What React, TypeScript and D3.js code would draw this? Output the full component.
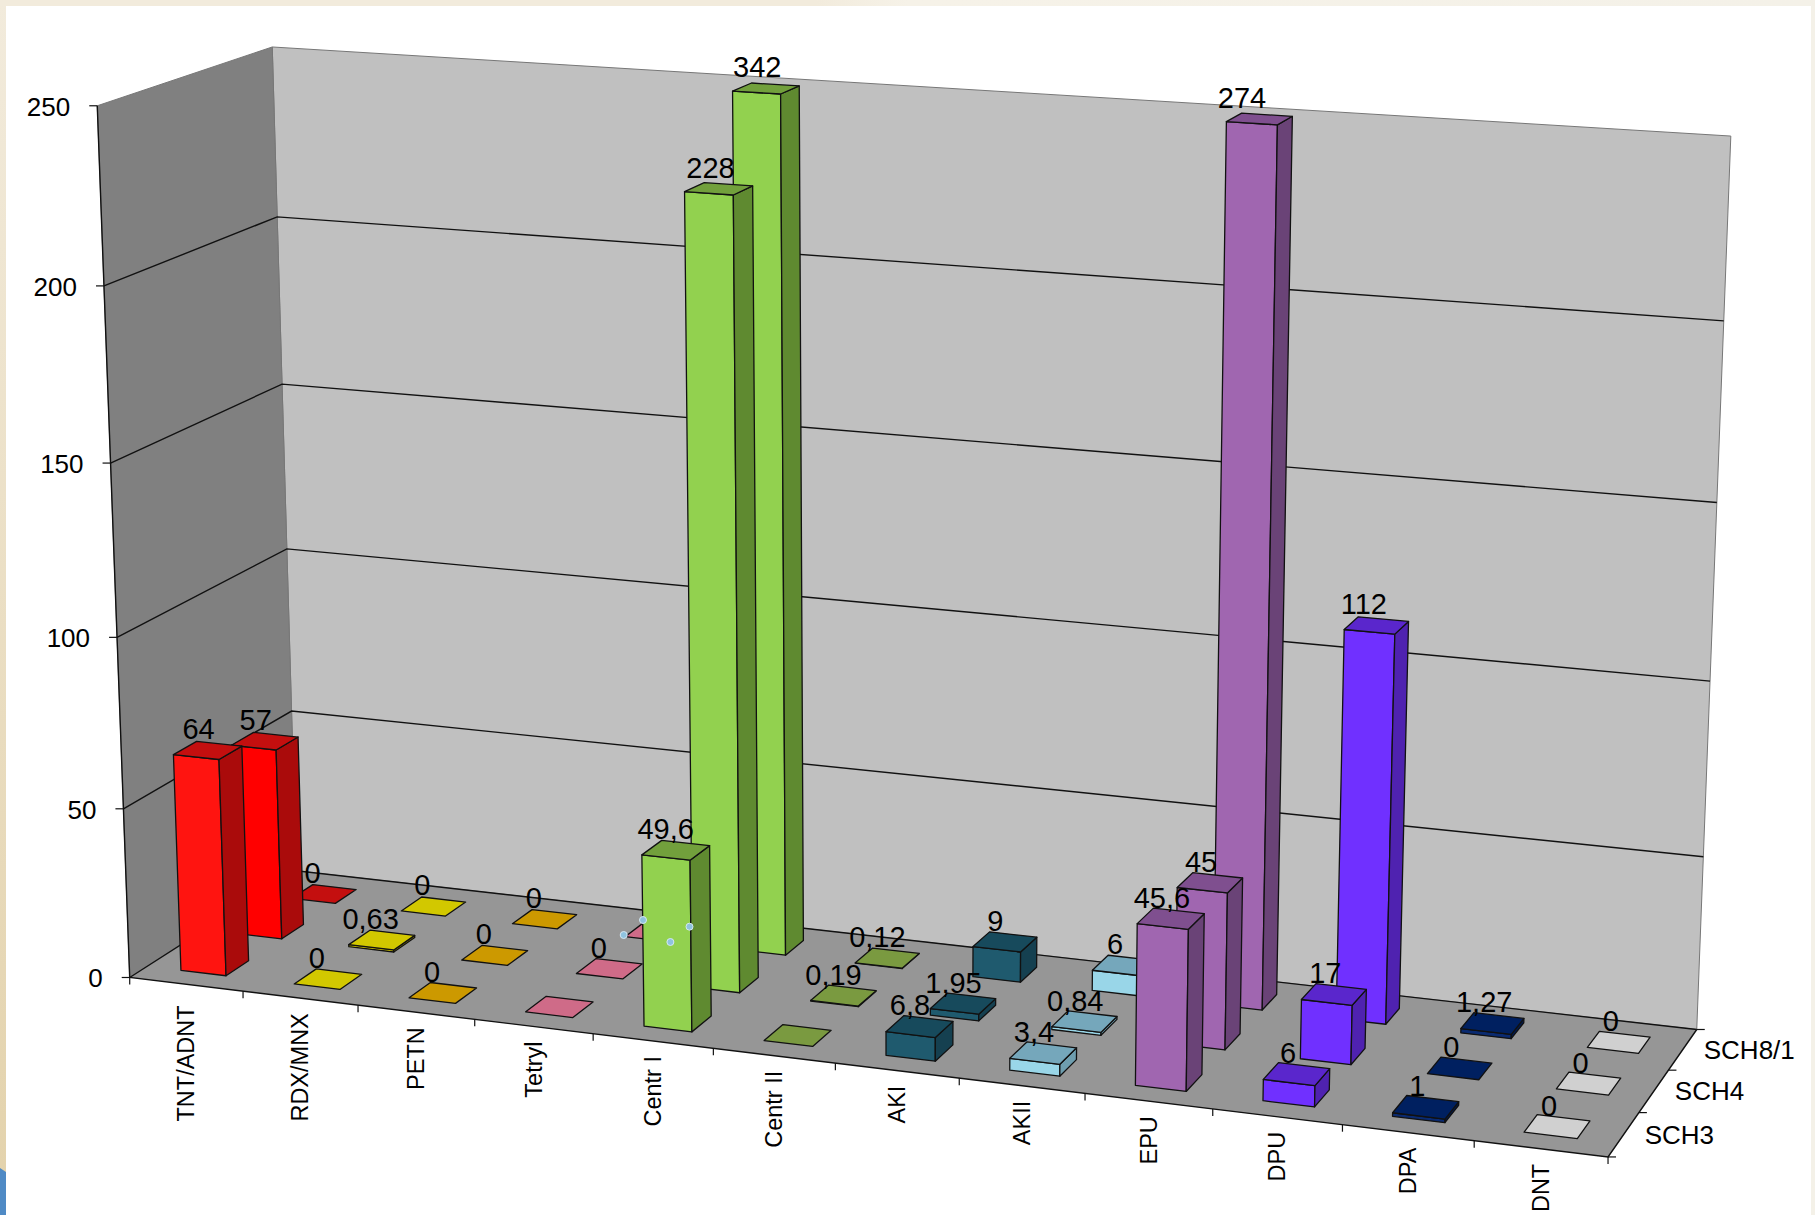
import React, { useMemo } from "react";
import * as d3 from "d3";

const WIDTH = 1815;
const HEIGHT = 1215;

// Series run from the front of the floor to the back wall.
const seriesNames = ["SCH3", "SCH4", "SCH8/1"];
const categories = ["TNT/ADNT", "RDX/MNX", "PETN", "Tetryl", "Centr I", "Centr II", "AKI", "AKII", "EPU", "DPU", "DPA", "DNT"];

const sch3Values = [64, 0, 0, 0, 49.6, 0, 6.8, 3.4, 45.6, 6, 1, 0];
const sch4Values = [57, 0.63, 0, 0, 228, 0.19, 1.95, 0.84, 45, 17, 0, 0];
const sch81Values = [0, 0, 0, 0, 342, 0.12, 9, 6, 274, 112, 1.27, 0];

// Empty strings are zero bars printed without a label.
const sch3Labels = ["64", "0", "0", "", "49,6", "", "6,8", "3,4", "45,6", "6", "1", "0"];
const sch4Labels = ["57", "0,63", "0", "0", "228", "0,19", "1,95", "0,84", "45", "17", "0", "0"];
const sch81Labels = ["0", "0", "0", "", "342", "0,12", "9", "6", "274", "112", "1,27", "0"];

const seriesValues = [sch3Values, sch4Values, sch81Values];
const seriesLabels = [sch3Labels, sch4Labels, sch81Labels];

const frontColors = ["#ff1410", "#e6da00", "#f5b800", "#f57a9a", "#92d14f", "#92d14f", "#1f5a6e", "#99d6e8", "#a066b0", "#7030ff", "#0a2a70", "#f2f2f2"];
const topColors = ["#c40f0f", "#d2c800", "#cc9900", "#cf6b88", "#72a03c", "#7a9a40", "#174a5c", "#75a7bb", "#7f4f8f", "#5a26cc", "#002060", "#d0d0d0"];
const sideColors = ["#aa0b0b", "#a89c00", "#a07800", "#a05068", "#5f8a30", "#5f8a30", "#154050", "#6e9eaf", "#6a4377", "#4f22b0", "#001a50", "#a8a8a8"];

const axisMax = 250;

// Box corners on the page: [x, y, z] in unit box space and where each lands.
const boxReference: [number, number, number, number, number][] = [
  [0, 0, 0, 130, 977],
  [1, 0, 0, 1608, 1158],
  [0, 1, 0, 296, 872],
  [1, 1, 0, 1697, 1028],
  [0, 0, 1, 97.3, 106],
  [0, 1, 1, 272, 46.7],
  [1, 1, 1, 1731, 136],
  [0, 0, 0.2, 122.8, 808],
  [0, 1, 0.2, 292, 711],
  [1, 1, 0.4, 1709.7, 681.7],
  [0, 0, 0.8, 104.3, 286],
  [1, 1, 0.8, 1723.7, 320.8],
];

const selectionHandles: [number, number][] = [
  [623.7, 935],
  [643, 920],
  [689.5, 926.7],
  [670.4, 942],
];

// Horizontal label adjustments for the tall bars, keyed by row-category.
const labelNudge: Record<string, number> = { "0-0": 2.4, "1-0": 2.4, "1-4": 2, "2-4": 1.5, "2-8": -8.5, "2-9": -4 };

// Least-squares fit of a 3x4 projective camera (bottom-right entry fixed at 1).
function fitCamera(points: typeof boxReference): number[] {
  const n = 11;
  const A = Array.from({ length: n }, () => new Array(n + 1).fill(0));
  const add = (row: number[], rhs: number) => {
    for (let i = 0; i < n; i++) {
      for (let j = 0; j < n; j++) A[i][j] += row[i] * row[j];
      A[i][n] += row[i] * rhs;
    }
  };
  for (const [x, y, z, pu, pv] of points) {
    const u = pu / 1000;
    const v = pv / 1000;
    add([x, y, z, 1, 0, 0, 0, 0, -u * x, -u * y, -u * z], u);
    add([0, 0, 0, 0, x, y, z, 1, -v * x, -v * y, -v * z], v);
  }
  for (let c = 0; c < n; c++) {
    let best = c;
    for (let r = c + 1; r < n; r++) if (Math.abs(A[r][c]) > Math.abs(A[best][c])) best = r;
    [A[c], A[best]] = [A[best], A[c]];
    for (let r = 0; r < n; r++) {
      if (r === c) continue;
      const f = A[r][c] / A[c][c];
      for (let k = c; k <= n; k++) A[r][k] -= f * A[c][k];
    }
  }
  return A.map((row, i) => row[n] / row[i]);
}

const cam = fitCamera(boxReference);

type Pt = [number, number];

function project(x: number, y: number, z: number): Pt {
  const w = cam[8] * x + cam[9] * y + cam[10] * z + 1;
  return [
    (1000 * (cam[0] * x + cam[1] * y + cam[2] * z + cam[3])) / w,
    (1000 * (cam[4] * x + cam[5] * y + cam[6] * z + cam[7])) / w,
  ];
}

const outline = (pts: Pt[]) => d3.line()(pts)! + "Z";

export default function App() {
  const font = "'Liberation Sans', Arial, sans-serif";

  const xBand = useMemo(() => d3.scaleBand<string>().domain(categories).range([0, 1]).paddingInner(0.6).paddingOuter(0.3), []);
  const depthBand = useMemo(() => d3.scaleBand<string>().domain(seriesNames).range([0, 1]).paddingInner(0.6).paddingOuter(0.3), []);
  const zScale = useMemo(() => d3.scaleLinear().domain([0, axisMax]).range([0, 1]).clamp(true), []);
  const zTicks = zScale.ticks(5);

  const bars: React.ReactNode[] = [];
  const valueLabels: React.ReactNode[] = [];

  // Paint from the back row forward so nearer bars cover farther ones.
  for (let r = seriesNames.length - 1; r >= 0; r--) {
    const y0 = depthBand(seriesNames[r])!;
    const y1 = y0 + depthBand.bandwidth();
    categories.forEach((cat, i) => {
      const x0 = xBand(cat)!;
      const x1 = x0 + xBand.bandwidth();
      const value = seriesValues[r][i];
      const z = zScale(value);
      const front = outline([project(x0, y0, 0), project(x1, y0, 0), project(x1, y0, z), project(x0, y0, z)]);
      const side = outline([project(x1, y0, 0), project(x1, y1, 0), project(x1, y1, z), project(x1, y0, z)]);
      const top = outline([project(x0, y0, z), project(x1, y0, z), project(x1, y1, z), project(x0, y1, z)]);
      const common = { stroke: "#111", strokeWidth: 1.3, strokeLinejoin: "round" as const };
      const frontFill = r === 1 && i === 0 ? "#ff0000" : frontColors[i];
      bars.push(
        <g key={`${r}-${i}`}>
          {value > 0 && <path d={front} fill={frontFill} {...common} />}
          {value > 0 && <path d={side} fill={sideColors[i]} {...common} />}
          <path d={top} fill={topColors[i]} {...common} />
        </g>
      );
      const label = seriesLabels[r][i];
      if (label) {
        const [cx, cy] = project((x0 + x1) / 2, (y0 + y1) / 2, z);
        const dx = -11.5 + (3.5 * i) / (categories.length - 1) + (labelNudge[`${r}-${i}`] ?? 0);
        valueLabels.push(
          <text key={`${r}-${i}`} x={cx + dx} y={cy - 21} textAnchor="middle" dominantBaseline="central" fontSize={29} fill="#000" fontFamily={font}>
            {label}
          </text>
        );
      }
    });
  }

  const step = xBand.step();
  const rowStep = depthBand.step();

  return (
    <svg width={WIDTH} height={HEIGHT} viewBox={`0 0 ${WIDTH} ${HEIGHT}`} style={{ position: "absolute", left: 0, top: 0, display: "block" }}>
      <defs>
        <linearGradient id="leftEdge" x1="0" y1="0" x2="0" y2="1">
          <stop offset="0" stopColor="#f2ebdc" />
          <stop offset="1" stopColor="#e3d2ab" />
        </linearGradient>
        <linearGradient id="topEdge" x1="0" y1="0" x2="1" y2="0">
          <stop offset="0" stopColor="#f2ebdc" />
          <stop offset="0.45" stopColor="#f2ebdc" />
          <stop offset="0.5" stopColor="#f6f2e8" />
          <stop offset="1" stopColor="#f4f1e8" />
        </linearGradient>
      </defs>
      <rect width={WIDTH} height={HEIGHT} fill="#ffffff" />
      <rect x={0} y={0} width={6} height={HEIGHT} fill="url(#leftEdge)" />
      <rect x={0} y={0} width={WIDTH} height={6} fill="url(#topEdge)" />
      <rect x={WIDTH - 4} y={0} width={4} height={HEIGHT} fill="#f4f1e8" />
      <path d={`M0 ${HEIGHT}V1168L6 1172V${HEIGHT}Z`} fill="#4f8ac5" />

      {/* Walls and floor */}
      <path d={outline([project(0, 1, 0), project(1, 1, 0), project(1, 1, 1), project(0, 1, 1)])} fill="#c0c0c0" stroke="#777" strokeWidth={1} />
      <path d={outline([project(0, 0, 0), project(0, 1, 0), project(0, 1, 1), project(0, 0, 1)])} fill="#808080" stroke="#777" strokeWidth={1} />
      <path d={outline([project(0, 0, 0), project(1, 0, 0), project(1, 1, 0), project(0, 1, 0)])} fill="#969696" />

      {/* Gridlines wrap from the left wall across the back wall */}
      {zTicks.map((t) => {
        const z = zScale(t);
        if (t === axisMax) return null;
        return <path key={t} d={d3.line()([project(0, 0, z), project(0, 1, z), project(1, 1, z)])!} fill="none" stroke="#111" strokeWidth={1.4} />;
      })}

      {/* Axis lines */}
      <path d={d3.line()([project(0, 0, 1), project(0, 0, 0), project(1, 0, 0), project(1, 1, 0)])!} fill="none" stroke="#111" strokeWidth={1.4} />

      {zTicks.map((t) => {
        const [ax, ay] = project(0, 0, zScale(t));
        return (
          <g key={t}>
            <line x1={ax - 8} x2={ax} y1={ay} y2={ay} stroke="#111" strokeWidth={1.2} />
            <text x={ax - 27} y={ay + 1} textAnchor="end" dominantBaseline="central" fontSize={26} fill="#000" fontFamily={font}>
              {t}
            </text>
          </g>
        );
      })}

      {d3.range(categories.length + 1).map((i) => {
        const [ax, ay] = project(i * step, 0, 0);
        return <line key={i} x1={ax} x2={ax} y1={ay} y2={ay + 7} stroke="#111" strokeWidth={1.2} />;
      })}
      {categories.map((cat, i) => {
        const [ax, ay] = project((i + 0.5) * step, 0, 0);
        return (
          <text key={cat} transform={`translate(${ax},${ay + (i === 0 ? 21 : 15)}) rotate(-90)`} textAnchor="end" dominantBaseline="central" fontSize={23.5} fill="#000" fontFamily={font}>
            {cat}
          </text>
        );
      })}

      {d3.range(seriesNames.length + 1).map((i) => {
        const [ax, ay] = project(1, i * rowStep, 0);
        return <line key={i} x1={ax} x2={ax + 8} y1={ay} y2={ay} stroke="#111" strokeWidth={1.2} />;
      })}
      {seriesNames.map((name, i) => {
        const [ax, ay] = project(1, (i + 0.5) * rowStep, 0);
        return (
          <text key={name} x={ax + 21} y={ay} dominantBaseline="central" fontSize={26} fill="#000" fontFamily={font}>
            {name}
          </text>
        );
      })}

      {bars}
      {valueLabels}

      {selectionHandles.map(([hx, hy], i) => (
        <circle key={i} cx={hx} cy={hy} r={3.5} fill="#8fc3df" stroke="#d5e8f2" strokeWidth={1} />
      ))}
    </svg>
  );
}
